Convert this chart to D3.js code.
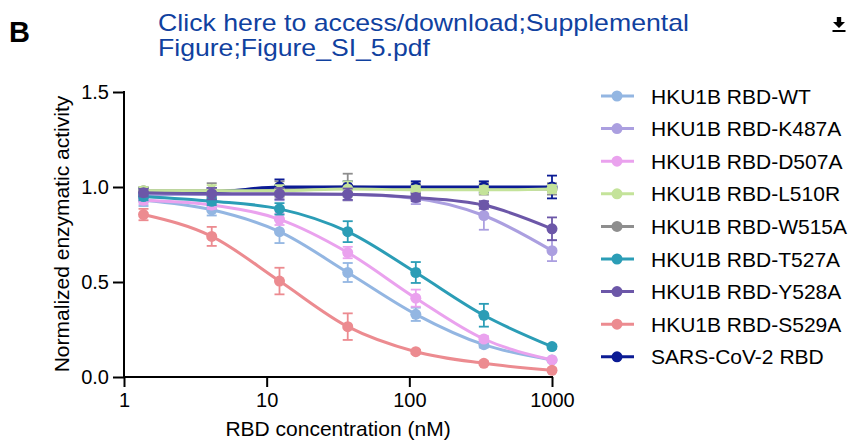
<!DOCTYPE html>
<html>
<head>
<meta charset="utf-8">
<script src="https://cdn.jsdelivr.net/npm/d3@7"></script>
<style>
  body { margin: 0; background: #fff; }
  text { font-family: "Liberation Sans", Arial, sans-serif; }
</style>
</head>
<body>
<div id="chart"></div>
<script>
// concentrations (nM), 3-fold dilutions
var conc = [1.37, 4.12, 12.3, 37.0, 111, 333, 1000];

var seriesNames = ["HKU1B RBD-WT", "HKU1B RBD-K487A", "HKU1B RBD-D507A", "HKU1B RBD-L510R",
                   "HKU1B RBD-W515A", "HKU1B RBD-T527A", "HKU1B RBD-Y528A", "HKU1B RBD-S529A", "SARS-CoV-2 RBD"];
var seriesColors = ["#93b6e2", "#ab9fe0", "#eaa2ee", "#c4e39a", "#8e8e8e", "#2b9db6", "#6c57a8", "#ec8b90", "#0b1b94"];

var wt       = [0.93, 0.88, 0.765, 0.55, 0.33, 0.17, 0.09];
var wtErr    = [0.03, 0.03, 0.06, 0.05, 0.035, 0.015, 0.01];
var k487a    = [0.96, 0.96, 0.96, 0.96, 0.94, 0.85, 0.665];
var k487aErr = [0.02, 0.03, 0.03, 0.03, 0.03, 0.075, 0.055];
var d507a    = [0.93, 0.905, 0.83, 0.655, 0.415, 0.2, 0.09];
var d507aErr = [0.02, 0.02, 0.03, 0.03, 0.045, 0.015, 0.01];
var l510r    = [0.98, 0.98, 0.98, 0.99, 0.985, 0.985, 0.99];
var l510rErr = [0.02, 0.03, 0.03, 0.04, 0.02, 0.02, 0.02];
var w515a    = [0.98, 0.98, 0.99, 1.0, 0.99, 0.99, 0.99];
var w515aErr = [0.02, 0.04, 0.04, 0.07, 0.03, 0.03, 0.03];
var t527a    = [0.95, 0.925, 0.885, 0.765, 0.55, 0.325, 0.16];
var t527aErr = [0.02, 0.02, 0.03, 0.055, 0.055, 0.06, 0.01];
var y528a    = [0.97, 0.965, 0.965, 0.962, 0.945, 0.905, 0.78];
var y528aErr = [0.02, 0.03, 0.03, 0.03, 0.02, 0.02, 0.06];
var s529a    = [0.855, 0.74, 0.505, 0.265, 0.133, 0.072, 0.035];
var s529aErr = [0.03, 0.05, 0.07, 0.07, 0.01, 0.01, 0.01];
var sars     = [0.975, 0.975, 1.0, 1.0, 1.0, 1.0, 1.0];
var sarsErr  = [0.02, 0.02, 0.04, 0.03, 0.03, 0.03, 0.06];

var xTicks = [1, 10, 100, 1000];
var yTicks = [0, 0.5, 1.0, 1.5];

var values = [wt, k487a, d507a, l510r, w515a, t527a, y528a, s529a, sars];
var errors = [wtErr, k487aErr, d507aErr, l510rErr, w515aErr, t527aErr, y528aErr, s529aErr, sarsErr];

var series = seriesNames.map(function(n, i) {
  return {
    name: n, color: seriesColors[i],
    pts: conc.map(function(c, j) { return {x: c, y: values[i][j], e: errors[i][j]}; })
  };
});

var svg = d3.select("#chart").append("svg")
  .attr("width", 850).attr("height", 442);

// header
svg.append("text").attr("x", 9).attr("y", 42)
  .style("font-size", "29px").style("font-weight", "bold").text("B");
svg.append("text").attr("x", 158).attr("y", 31).attr("fill", "#10419f")
  .attr("textLength", 531).attr("lengthAdjust", "spacingAndGlyphs")
  .style("font-size", "24px").text("Click here to access/download;Supplemental");
svg.append("text").attr("x", 158).attr("y", 56).attr("fill", "#10419f")
  .attr("textLength", 272).attr("lengthAdjust", "spacingAndGlyphs")
  .style("font-size", "24px").text("Figure;Figure_SI_5.pdf");
// download icon
var ic = svg.append("g").attr("transform", "translate(839,17)");
ic.append("path").attr("d", "M-2.2,0 H2.2 V5 H6 L0,11 L-6,5 H-2.2 Z").attr("fill", "#000");
ic.append("rect").attr("x", -6.5).attr("y", 13).attr("width", 13).attr("height", 2).attr("fill", "#000");

var x = d3.scaleLog().domain([1, 1000]).range([124, 552]);
var y = d3.scaleLinear().domain([0, 1.5]).range([377, 92]);

var xAxis = svg.append("g").attr("transform", "translate(0,377)")
  .call(d3.axisBottom(x).tickValues(xTicks).tickFormat(d3.format("d")).tickSize(10).tickSizeOuter(0).tickPadding(6));
var yAxis = svg.append("g").attr("transform", "translate(124,0)")
  .call(d3.axisLeft(y).tickValues(yTicks).tickFormat(d3.format(".1f")).tickSize(11).tickSizeOuter(0).tickPadding(4));

[xAxis, yAxis].forEach(function(a) {
  a.selectAll("path, line").attr("stroke", "#000").attr("stroke-width", 2);
  a.selectAll("text").attr("fill", "#000").style("font-size", "20px")
    .style("font-family", "'Liberation Sans', Arial, sans-serif");
});
// extend domain lines so they meet at the corner
xAxis.select(".domain").attr("d", "M123,0H553");
yAxis.select(".domain").attr("d", "M0,91V378");

svg.append("text").attr("x", 338).attr("y", 436).attr("text-anchor", "middle")
  .style("font-size", "21px").text("RBD concentration (nM)");
svg.append("text").attr("transform", "translate(69,234) rotate(-90)").attr("text-anchor", "middle")
  .style("font-size", "21px").text("Normalized enzymatic activity");

var line = d3.line()
  .x(function(d) { return x(d.x); })
  .y(function(d) { return y(d.y); })
  .curve(d3.curveMonotoneX);

// grey and SARS-CoV-2 drawn first, the other mutants over them
var order = [4, 8, 0, 1, 2, 3, 5, 6, 7];
var plot = svg.append("g");
order.forEach(function(i) {
  var s = series[i];
  var g = plot.append("g");
  g.append("path").attr("d", line(s.pts)).attr("fill", "none")
    .attr("stroke", s.color).attr("stroke-width", 3);
  var eb = g.selectAll(".eb").data(s.pts).enter().append("g");
  eb.append("line")
    .attr("x1", function(d) { return x(d.x); }).attr("x2", function(d) { return x(d.x); })
    .attr("y1", function(d) { return y(d.y - d.e); }).attr("y2", function(d) { return y(d.y + d.e); })
    .attr("stroke", s.color).attr("stroke-width", 1.8);
  [-1, 1].forEach(function(sg) {
    eb.append("line")
      .attr("x1", function(d) { return x(d.x) - 5; }).attr("x2", function(d) { return x(d.x) + 5; })
      .attr("y1", function(d) { return y(d.y + sg * d.e); }).attr("y2", function(d) { return y(d.y + sg * d.e); })
      .attr("stroke", s.color).attr("stroke-width", 1.8);
  });
  g.selectAll("circle").data(s.pts).enter().append("circle")
    .attr("cx", function(d) { return x(d.x); })
    .attr("cy", function(d) { return y(d.y); })
    .attr("r", 5.5).attr("fill", s.color);
});

// legend
var legend = svg.append("g");
series.forEach(function(s, i) {
  var ly = 96 + i * 32.6;
  legend.append("line").attr("x1", 601).attr("x2", 634).attr("y1", ly).attr("y2", ly)
    .attr("stroke", s.color).attr("stroke-width", 3);
  legend.append("circle").attr("cx", 617).attr("cy", ly).attr("r", 5.5).attr("fill", s.color);
  legend.append("text").attr("x", 651).attr("y", ly + 7.5)
    .style("font-size", "21px").text(s.name);
});
</script>
</body>
</html>
